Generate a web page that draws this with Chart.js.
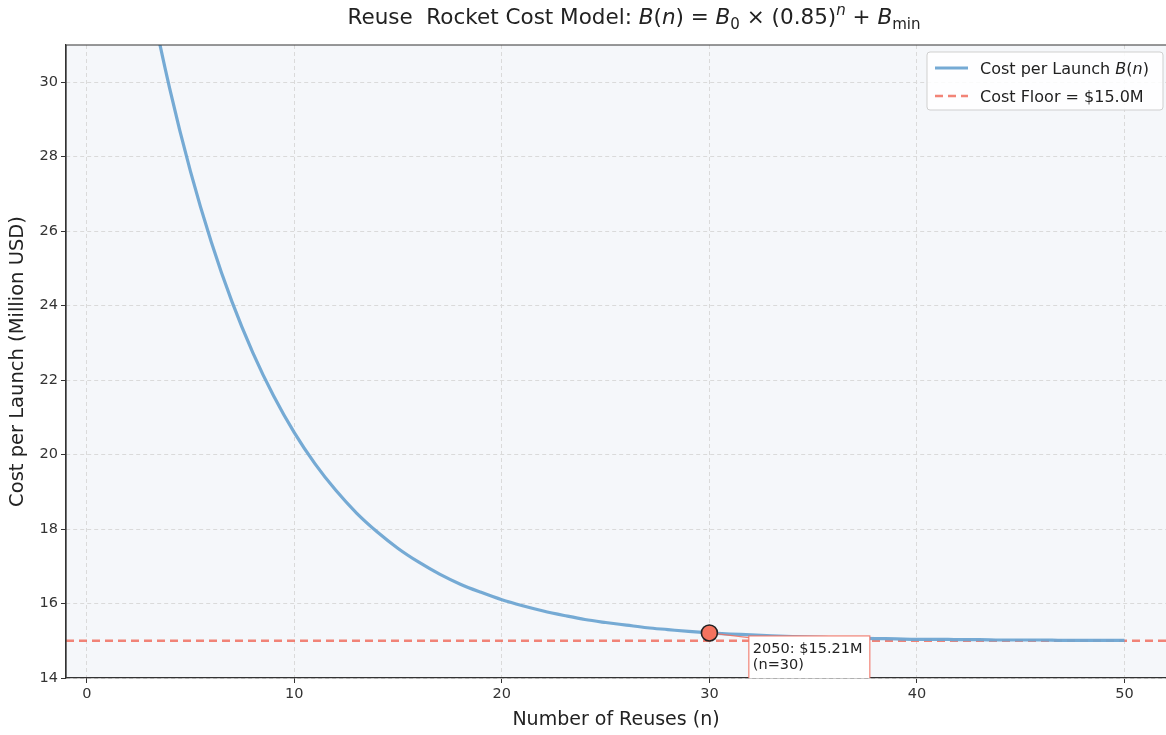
<!DOCTYPE html>
<html>
<head>
<meta charset="utf-8">
<script src="https://cdn.jsdelivr.net/npm/chart.js@4.4.1/dist/chart.umd.min.js"></script>
<style>
  html, body { margin: 0; padding: 0; background: #fff; }
  #wrap { width: 1166px; height: 735px; }
</style>
</head>
<body>
<div id="wrap"><canvas id="costChart" width="1166" height="735"></canvas></div>
<script>
// number of reuses and cost per launch (million USD)
const reuses = [0, 1, 2, 3, 4, 5, 6, 7, 8, 9, 10, 11, 12, 13, 14, 15, 16, 17, 18, 19, 20,
  21, 22, 23, 24, 25, 26, 27, 28, 29, 30, 31, 32, 33, 34, 35, 36, 37, 38, 39, 40,
  41, 42, 43, 44, 45, 46, 47, 48, 49, 50];
const costPerLaunch = [43.4, 39.14, 35.52, 32.44, 29.82, 27.6, 25.71, 24.1, 22.74, 21.58, 20.59,
  19.75, 19.04, 18.43, 17.92, 17.48, 17.11, 16.79, 16.52, 16.3, 16.1,
  15.94, 15.8, 15.68, 15.57, 15.49, 15.42, 15.35, 15.3, 15.25, 15.21,
  15.18, 15.16, 15.13, 15.11, 15.1, 15.08, 15.07, 15.06, 15.05, 15.04,
  15.04, 15.03, 15.03, 15.02, 15.02, 15.02, 15.01, 15.01, 15.01, 15.01];
const costFloor = 15.0;
const highlightN = 30;
const highlightYear = 2050;
const highlightCost = 15.21;
const xTicks = [0, 10, 20, 30, 40, 50];
const yTicks = [14, 16, 18, 20, 22, 24, 26, 28, 30];

const FONT = '"DejaVu Sans", sans-serif';
const blue = 'rgba(110, 165, 210, 0.95)';
const salmon = 'rgba(240, 110, 95, 0.85)';

const curvePts = reuses.map((n, i) => ({ x: n, y: costPerLaunch[i] }));

// plot background + frame
const frame = {
  id: 'frame',
  beforeDraw(chart) {
    const { ctx, chartArea: a } = chart;
    ctx.save();
    ctx.fillStyle = '#f5f7fa';
    ctx.fillRect(a.left, a.top, a.right - a.left, a.bottom - a.top);
    ctx.restore();
  },
  afterDraw(chart) {
    const { ctx, chartArea: a } = chart;
    ctx.save();
    ctx.strokeStyle = '#333';
    ctx.lineWidth = 1.2;
    ctx.beginPath();
    ctx.moveTo(a.left, a.bottom);
    ctx.lineTo(a.left, a.top);
    ctx.lineTo(a.right, a.top);
    ctx.stroke();
    ctx.restore();
  }
};

// draws runs of text pieces (italic / sub / sup)
function drawRuns(ctx, runs, x, y, size) {
  runs.forEach(r => {
    const s = r.sub || r.sup ? size * 0.7 : size;
    ctx.font = (r.it ? 'italic ' : '') + s + 'px ' + FONT;
    const dy = r.sub ? size * 0.25 : (r.sup ? -size * 0.42 : 0);
    ctx.fillText(r.t, x, y + dy);
    x += ctx.measureText(r.t).width;
  });
  return x;
}
function runsWidth(ctx, runs, size) {
  let w = 0;
  runs.forEach(r => {
    const s = r.sub || r.sup ? size * 0.7 : size;
    ctx.font = (r.it ? 'italic ' : '') + s + 'px ' + FONT;
    w += ctx.measureText(r.t).width;
  });
  return w;
}

const titleRuns = [
  { t: 'Reuse  Rocket Cost Model: ' }, { t: 'B', it: true }, { t: '(' }, { t: 'n', it: true },
  { t: ') = ' }, { t: 'B', it: true }, { t: '0', sub: true }, { t: ' × (0.85)' },
  { t: 'n', it: true, sup: true }, { t: ' + ' }, { t: 'B', it: true }, { t: 'min', sub: true }
];

const extras = {
  id: 'extras',
  afterDatasetsDraw(chart) {
    const { ctx, chartArea: a, scales: { x, y } } = chart;
    // annotation box
    const px = x.getPixelForValue(highlightN), py = y.getPixelForValue(highlightCost);
    const bx = x.getPixelForValue(31.9), by = y.getPixelForValue(15.13);
    ctx.save();
    ctx.beginPath();
    ctx.rect(a.left, a.top, a.right - a.left, a.bottom - a.top);
    ctx.clip();
    ctx.strokeStyle = salmon;
    ctx.lineWidth = 1.2;
    ctx.beginPath();
    ctx.moveTo(px, py);
    ctx.lineTo(bx + 2, by + 2);
    ctx.stroke();
    ctx.fillStyle = '#fff';
    ctx.fillRect(bx, by, 121, a.bottom - by + 4);
    ctx.strokeRect(bx, by, 121, a.bottom - by + 4);
    ctx.fillStyle = '#222';
    ctx.font = '14.5px ' + FONT;
    ctx.textBaseline = 'alphabetic';
    ctx.fillText(highlightYear + ': $' + highlightCost.toFixed(2) + 'M', bx + 4, by + 17);
    ctx.fillText('(n=' + highlightN + ')', bx + 4, by + 33);
    ctx.restore();

    // marker on top
    ctx.save();
    ctx.beginPath();
    ctx.arc(px, py, 8, 0, Math.PI * 2);
    ctx.fillStyle = '#f4735f';
    ctx.fill();
    ctx.lineWidth = 1.6;
    ctx.strokeStyle = '#222';
    ctx.stroke();
    ctx.restore();
  },
  afterDraw(chart) {
    const { ctx } = chart;
    ctx.save();
    ctx.fillStyle = '#222';
    ctx.textBaseline = 'alphabetic';
    const w = runsWidth(ctx, titleRuns, 21.5);
    drawRuns(ctx, titleRuns, 634 - w / 2, 24, 21.5);

    // legend
    const lx = 927, ly = 52, lw = 236, lh = 58;
    ctx.fillStyle = 'rgba(255,255,255,0.85)';
    ctx.strokeStyle = '#cfcfcf';
    ctx.lineWidth = 1;
    ctx.beginPath();
    ctx.roundRect(lx, ly, lw, lh, 3);
    ctx.fill();
    ctx.stroke();
    ctx.lineWidth = 3;
    ctx.strokeStyle = blue;
    ctx.beginPath();
    ctx.moveTo(935, 68); ctx.lineTo(968, 68);
    ctx.stroke();
    ctx.lineWidth = 2.5;
    ctx.strokeStyle = salmon;
    ctx.setLineDash([8, 5]);
    ctx.beginPath();
    ctx.moveTo(935, 96); ctx.lineTo(968, 96);
    ctx.stroke();
    ctx.setLineDash([]);
    ctx.fillStyle = '#222';
    drawRuns(ctx, [{ t: 'Cost per Launch ' }, { t: 'B', it: true }, { t: '(' }, { t: 'n', it: true }, { t: ')' }], 980, 74, 16);
    drawRuns(ctx, [{ t: 'Cost Floor = $' + costFloor.toFixed(1) + 'M' }], 980, 102, 16);
    ctx.restore();
  }
};

new Chart(document.getElementById('costChart'), {
  type: 'line',
  data: {
    datasets: [
      {
        label: 'Cost per Launch B(n)',
        data: curvePts,
        borderColor: blue,
        borderWidth: 3.2,
        pointRadius: 0,
        cubicInterpolationMode: 'monotone',
        fill: false
      },
      {
        label: 'Cost Floor = $15.0M',
        data: [{ x: -1, y: costFloor }, { x: 52, y: costFloor }],
        borderColor: salmon,
        borderWidth: 2.6,
        borderDash: [8, 5],
        pointRadius: 0,
        fill: false
      }
    ]
  },
  options: {
    responsive: false,
    animation: false,
    layout: { padding: { top: 45, left: 0, right: 0, bottom: 0 } },
    plugins: { legend: { display: false }, title: { display: false }, tooltip: { enabled: false } },
    scales: {
      x: {
        type: 'linear',
        min: -1,
        max: 52,
        afterBuildTicks: s => { s.ticks = xTicks.map(v => ({ value: v })); },
        afterFit: s => { s.height = 57; },
        grid: { color: '#dadada', tickColor: '#333', tickLength: 5, tickBorderDash: [] },
        border: { display: true, color: '#333', width: 1.2, dash: [4, 3] },
        ticks: { color: '#333', font: { family: FONT, size: 14.5 }, padding: 3, maxRotation: 0 },
        title: { display: true, text: 'Number of Reuses (n)', color: '#222', font: { family: FONT, size: 19 }, padding: { top: 0 } }
      },
      y: {
        type: 'linear',
        min: 14,
        max: 31,
        afterBuildTicks: s => { s.ticks = yTicks.map(v => ({ value: v })); },
        afterFit: s => { s.width = 66; },
        grid: { color: '#dadada', tickColor: '#333', tickLength: 5, tickBorderDash: [] },
        border: { display: true, color: '#333', width: 1.2, dash: [4, 3] },
        ticks: { color: '#333', font: { family: FONT, size: 14.5 }, padding: 3 },
        title: { display: true, text: 'Cost per Launch (Million USD)', color: '#222', font: { family: FONT, size: 19.5 }, padding: { top: 6, bottom: 0 } }
      }
    }
  },
  plugins: [frame, extras]
});
</script>
</body>
</html>
